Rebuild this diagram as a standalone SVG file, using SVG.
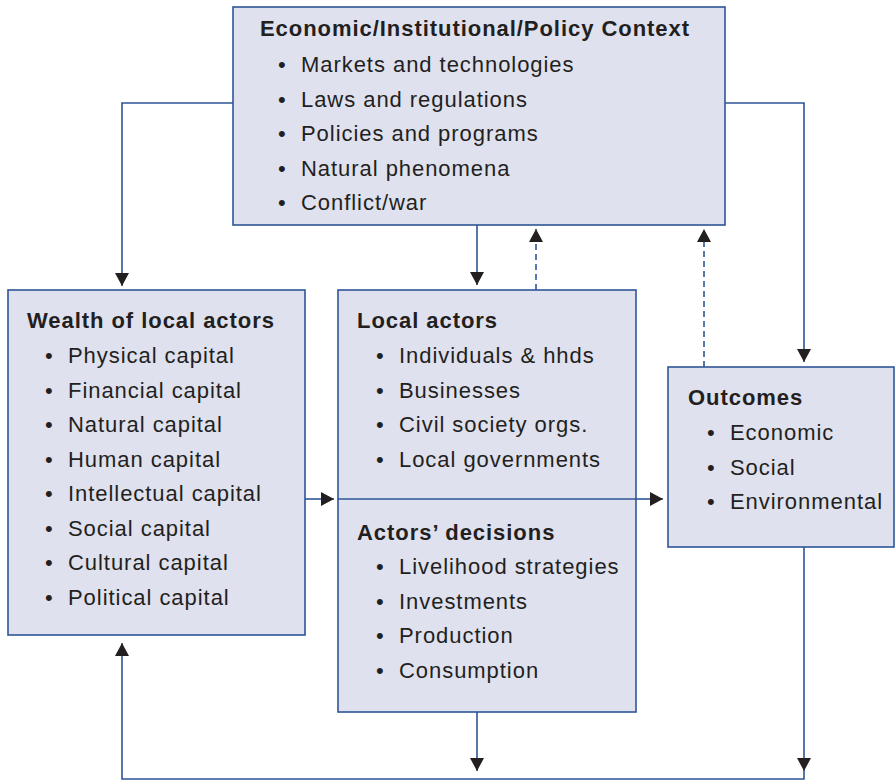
<svg xmlns="http://www.w3.org/2000/svg" width="895" height="782" viewBox="0 0 895 782">
<style>
.box{fill:#dfe1ee;stroke:#2e5597;stroke-width:1.6}
.t{font-family:"Liberation Sans",Arial,Helvetica,sans-serif;font-size:22px;fill:#231f20;letter-spacing:0.95px}
.b{font-weight:bold}
.c{fill:none;stroke:#2e5597;stroke-width:1.6}
.d{fill:none;stroke:#2e5597;stroke-width:1.6;stroke-dasharray:6 4}
</style>
<defs>
<marker id="arr" viewBox="0 0 13 14" refX="13" refY="7" markerWidth="13" markerHeight="14" markerUnits="userSpaceOnUse" orient="auto">
<path d="M0,0 L13,7 L0,14 z" fill="#231f20"/>
</marker>
</defs>
<rect width="895" height="782" fill="#ffffff"/>
<g id="connectors">
<path class="c" d="M233,103 H122 V286" marker-end="url(#arr)"/>
<path class="c" d="M725,103 H804 V362" marker-end="url(#arr)"/>
<path class="c" d="M477,225 V285" marker-end="url(#arr)"/>
<path class="d" d="M536,290 V229" marker-end="url(#arr)"/>
<path class="d" d="M704,367 V229" marker-end="url(#arr)"/>
<path class="c" d="M305,499 H334" marker-end="url(#arr)"/>
<path class="c" d="M636,499 H663" marker-end="url(#arr)"/>
<path class="c" d="M477,712 V771" marker-end="url(#arr)"/>
<path class="c" d="M804,547 V771" marker-end="url(#arr)"/>
<path class="c" d="M804,771 V779 H122 V643" marker-end="url(#arr)"/>
</g>
<g id="context">
<rect class="box" x="233" y="7" width="492" height="218"/>
<text class="t b" x="260" y="36">Economic/Institutional/Policy Context</text>
<text class="t" x="278" y="72">•</text><text class="t" x="301" y="72">Markets and technologies</text>
<text class="t" x="278" y="106.5">•</text><text class="t" x="301" y="106.5">Laws and regulations</text>
<text class="t" x="278" y="141">•</text><text class="t" x="301" y="141">Policies and programs</text>
<text class="t" x="278" y="175.5">•</text><text class="t" x="301" y="175.5">Natural phenomena</text>
<text class="t" x="278" y="210">•</text><text class="t" x="301" y="210">Conflict/war</text>
</g>
<g id="wealth">
<rect class="box" x="8" y="290" width="297" height="345"/>
<text class="t b" x="27" y="328">Wealth of local actors</text>
<text class="t" x="45" y="363">•</text><text class="t" x="68" y="363">Physical capital</text>
<text class="t" x="45" y="397.5">•</text><text class="t" x="68" y="397.5">Financial capital</text>
<text class="t" x="45" y="432">•</text><text class="t" x="68" y="432">Natural capital</text>
<text class="t" x="45" y="466.5">•</text><text class="t" x="68" y="466.5">Human capital</text>
<text class="t" x="45" y="501">•</text><text class="t" x="68" y="501">Intellectual capital</text>
<text class="t" x="45" y="535.5">•</text><text class="t" x="68" y="535.5">Social capital</text>
<text class="t" x="45" y="570">•</text><text class="t" x="68" y="570">Cultural capital</text>
<text class="t" x="45" y="604.5">•</text><text class="t" x="68" y="604.5">Political capital</text>
</g>
<g id="local-actors">
<rect class="box" x="338" y="290" width="298" height="422"/>
<line class="c" x1="338" y1="499" x2="636" y2="499"/>
<text class="t b" x="357" y="328">Local actors</text>
<text class="t" x="376" y="363">•</text><text class="t" x="399" y="363">Individuals &amp; hhds</text>
<text class="t" x="376" y="397.5">•</text><text class="t" x="399" y="397.5">Businesses</text>
<text class="t" x="376" y="432">•</text><text class="t" x="399" y="432">Civil society orgs.</text>
<text class="t" x="376" y="466.5">•</text><text class="t" x="399" y="466.5">Local governments</text>
</g>
<g id="decisions">
<text class="t b" x="357" y="540">Actors’ decisions</text>
<text class="t" x="376" y="574">•</text><text class="t" x="399" y="574">Livelihood strategies</text>
<text class="t" x="376" y="608.5">•</text><text class="t" x="399" y="608.5">Investments</text>
<text class="t" x="376" y="643">•</text><text class="t" x="399" y="643">Production</text>
<text class="t" x="376" y="677.5">•</text><text class="t" x="399" y="677.5">Consumption</text>
</g>
<g id="outcomes">
<rect class="box" x="668" y="367" width="226" height="180"/>
<text class="t b" x="688" y="405">Outcomes</text>
<text class="t" x="707" y="440">•</text><text class="t" x="730" y="440">Economic</text>
<text class="t" x="707" y="474.5">•</text><text class="t" x="730" y="474.5">Social</text>
<text class="t" x="707" y="509">•</text><text class="t" x="730" y="509">Environmental</text>
</g>
</svg>
